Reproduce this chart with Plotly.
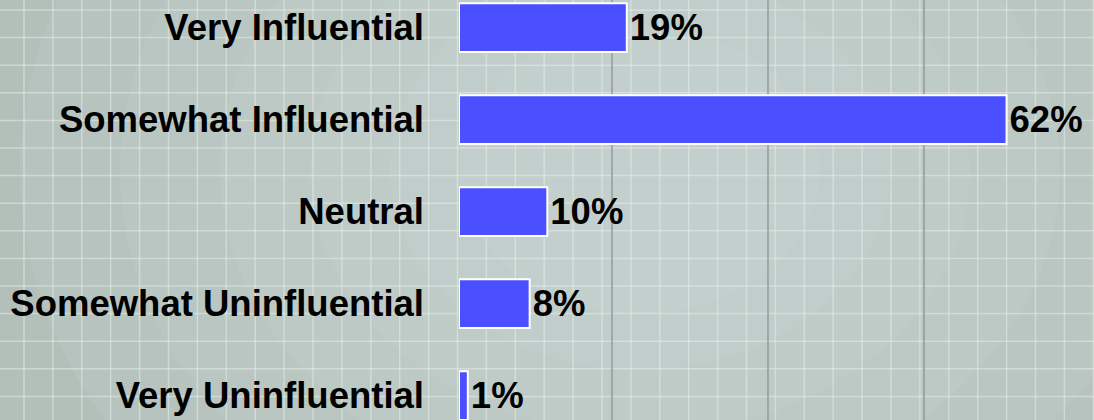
import plotly.graph_objects as go

categories = ["Very Influential", "Somewhat Influential", "Neutral",
              "Somewhat Uninfluential", "Very Uninfluential"]
values = [19, 62, 10, 8, 1]
labels = ["19%", "62%", "10%", "8%", "1%"]

W, H = 1094, 420
L = 459  # left margin (plot start)
PW = W - L

def px(x):
    return (x - L) / PW

def py(y):
    return 1 - y / H

shapes = []
# soft light glow in centre
for i, r in enumerate([620, 520, 420, 330, 250, 180]):
    shapes.append(dict(type="circle", xref="paper", yref="paper", layer="below",
                       x0=px(640 - r), x1=px(640 + r), y0=py(170 + r * 0.8), y1=py(170 - r * 0.8),
                       fillcolor="rgba(225,235,228,0.09)", line=dict(width=0)))
# light grid
gx = 24.0
while gx < W:
    shapes.append(dict(type="line", xref="paper", yref="paper", layer="below",
                       x0=px(gx), x1=px(gx), y0=0, y1=1,
                       line=dict(color="rgba(232,240,236,0.5)", width=1.5)))
    gx += 28.9
gy = 10.0
while gy < H:
    shapes.append(dict(type="line", xref="paper", yref="paper", layer="below",
                       x0=px(0), x1=px(W), y0=py(gy), y1=py(gy),
                       line=dict(color="rgba(232,240,236,0.5)", width=1.5)))
    gy += 27.6
# darker vertical lines
for dx in [612, 768, 924]:
    shapes.append(dict(type="line", xref="paper", yref="paper", layer="below",
                       x0=px(dx), x1=px(dx), y0=0, y1=1,
                       line=dict(color="rgba(150,152,155,0.75)", width=2)))

fig = go.Figure(go.Bar(
    x=values, y=categories, orientation="h",
    marker=dict(color="#4a50ff", line=dict(color="white", width=2)),
    width=0.53,
    text=labels, textposition="outside", cliponaxis=False,
    textfont=dict(family="Liberation Sans", size=36.5, color="black", weight="bold"),
))

fig.update_layout(
    width=W, height=H,
    margin=dict(l=L, r=0, t=0, b=0),
    paper_bgcolor="#b3c0ba",
    plot_bgcolor="rgba(0,0,0,0)",
    shapes=shapes,
    showlegend=False,
    xaxis=dict(range=[0, 71.9], showgrid=False, zeroline=False, showticklabels=False,
               automargin=False),
    yaxis=dict(categoryorder="array", categoryarray=categories,
               range=[4.265, -0.3], showgrid=False, zeroline=False, automargin=False,
               ticks="", ticklabelstandoff=34,
               tickfont=dict(family="Liberation Sans", size=36.5, color="black", weight="bold")),
)

fig.write_html("out.html", config={"displayModeBar": False},
               post_script="document.body.style.margin='0';document.body.style.overflow='hidden';")
